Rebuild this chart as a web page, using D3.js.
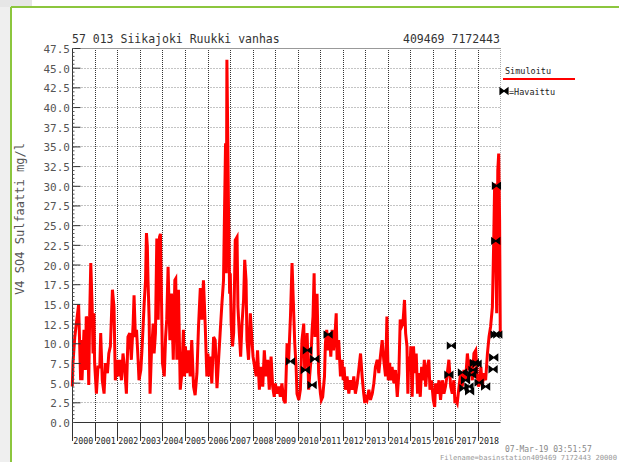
<!DOCTYPE html>
<html>
<head>
<meta charset="utf-8">
<script src="https://cdn.jsdelivr.net/npm/d3@7"></script>
<style>
  body { margin: 0; background: #fff; }
  svg { display: block; }
  text { font-family: "DejaVu Sans Mono", monospace; }
</style>
</head>
<body>
<svg id="svg" width="619" height="462"></svg>
<script>
// simulated SO4 (decimal year, mg/l)
const simT = [
  2000.00,2000.03,2000.11,2000.18,2000.28,2000.37,2000.40,2000.43,2000.52,2000.58,2000.62,2000.67,2000.73,2000.77,2000.82,2000.88,2000.92,2000.96,2000.99,
  2001.07,2001.14,2001.22,2001.26,2001.33,2001.41,2001.47,2001.56,2001.62,2001.69,2001.78,2001.85,2001.91,2001.99,
  2002.03,2002.10,2002.18,2002.25,2002.33,2002.40,2002.47,2002.55,2002.62,2002.70,2002.74,2002.80,2002.85,2002.92,2002.96,
  2003.04,2003.10,2003.19,2003.25,2003.29,2003.33,2003.36,2003.41,2003.45,2003.51,2003.59,2003.63,2003.69,2003.75,2003.81,2003.87,2003.91,2003.96,2004.00,
  2004.08,2004.14,2004.19,2004.25,2004.33,2004.40,2004.48,2004.55,2004.59,2004.64,2004.71,2004.79,2004.86,2004.93,2004.98,
  2005.02,2005.08,2005.16,2005.23,2005.30,2005.38,2005.45,2005.53,2005.60,2005.68,2005.75,2005.82,2005.90,2005.97,
  2006.02,2006.05,2006.12,2006.19,2006.27,2006.34,2006.42,2006.49,2006.56,2006.64,2006.71,2006.76,2006.80,2006.83,2006.86,2006.90,2006.93,2006.98,
  2007.01,2007.05,2007.11,2007.16,2007.23,2007.31,2007.35,2007.41,2007.47,2007.53,2007.60,2007.65,2007.71,2007.75,2007.82,2007.90,2007.97,
  2008.02,2008.09,2008.16,2008.22,2008.30,2008.37,2008.45,2008.52,2008.59,2008.67,2008.74,2008.82,2008.89,2008.96,
  2009.01,2009.08,2009.16,2009.23,2009.30,2009.38,2009.45,2009.53,2009.60,2009.68,2009.75,2009.82,2009.87,2009.93,2009.97,
  2010.05,2010.12,2010.19,2010.27,2010.31,2010.37,2010.42,2010.49,2010.53,2010.58,2010.64,2010.68,2010.73,2010.77,2010.82,2010.86,2010.91,2010.93,
  2011.01,2011.05,2011.11,2011.19,2011.23,2011.29,2011.35,2011.41,2011.47,2011.53,2011.59,2011.65,2011.71,2011.75,2011.82,2011.90,2011.97,
  2012.02,2012.06,2012.12,2012.19,2012.27,2012.34,2012.42,2012.49,2012.56,2012.64,2012.71,2012.79,2012.86,2012.93,2012.98,
  2013.01,2013.08,2013.16,2013.23,2013.31,2013.38,2013.45,2013.53,2013.60,2013.67,2013.75,2013.82,2013.90,2013.96,
  2014.02,2014.08,2014.13,2014.19,2014.27,2014.34,2014.42,2014.49,2014.55,2014.61,2014.67,2014.74,2014.79,2014.85,2014.89,2014.93,2014.99,
  2015.02,2015.08,2015.14,2015.20,2015.26,2015.32,2015.38,2015.44,2015.50,2015.56,2015.62,2015.68,2015.75,2015.82,2015.87,2015.94,
  2016.02,2016.08,2016.12,2016.19,2016.27,2016.34,2016.42,2016.49,2016.56,2016.64,2016.71,2016.79,2016.86,2016.93,2016.98,
  2017.02,2017.08,2017.16,2017.23,2017.30,2017.38,2017.45,2017.53,2017.60,2017.68,2017.75,2017.82,2017.90,2017.96,
  2018.02,2018.08,2018.13,2018.19,2018.26,2018.34,2018.42,2018.49,2018.56,2018.64,2018.70,2018.74,2018.79,2018.83,2018.88,2018.92,2018.96,2018.99
]
const simV = [
  4.5,7.5,10.8,12.5,14.9,5.3,10.4,5.3,11.7,6.6,13.4,13.0,4.7,13.4,20.2,14.6,8.7,13.8,7.5,
  3.6,7.0,7.0,11.3,5.3,3.6,7.5,6.2,8.7,9.6,16.8,14.6,5.3,7.9,
  5.8,7.9,5.3,8.7,6.6,3.6,10.8,11.3,7.9,12.5,16.1,10.8,11.7,7.9,5.3,
  6.6,9.6,15.1,18.0,24.0,22.3,18.0,13.0,3.6,8.7,12.5,8.7,11.3,23.3,13.0,23.5,23.9,15.1,7.5,
  5.8,10.8,13.0,19.7,10.4,16.3,7.9,18.0,18.2,7.9,16.8,4.1,6.2,11.7,5.8,
  9.6,6.2,9.1,5.8,10.4,4.5,3.4,6.2,12.1,17.0,13.0,18.0,12.1,5.8,
  8.7,5.8,8.3,4.9,10.8,10.4,4.3,7.9,11.3,15.1,18.0,27.8,35.4,18.9,46.0,35.8,27.3,16.3,
  18.9,12.5,9.6,11.3,23.1,23.5,14.6,11.3,8.3,12.5,15.5,20.6,18.0,10.4,7.9,13.8,10.4,
  8.3,7.0,5.8,9.1,4.1,7.0,4.5,9.1,5.8,7.9,4.1,8.3,4.5,3.2,
  4.9,3.6,4.5,3.2,4.9,2.8,2.4,10.0,7.9,13.4,20.2,14.2,10.0,7.0,3.6,
  2.8,4.1,10.4,12.5,6.6,8.3,11.3,4.1,5.8,7.5,11.7,13.4,18.9,10.8,15.5,16.3,9.1,6.2,
  3.6,2.8,3.2,5.8,10.0,11.7,9.1,11.3,8.3,11.7,9.1,10.8,13.8,7.9,10.4,5.8,7.9,
  5.3,7.0,4.1,5.8,3.6,5.3,4.1,5.8,3.6,4.9,6.6,8.7,5.8,3.6,2.4,
  3.2,2.8,4.1,2.8,3.6,4.9,7.0,7.9,6.2,8.3,10.4,7.9,5.8,13.4,
  5.3,7.5,5.3,7.0,4.9,6.6,3.2,6.2,13.0,12.1,12.5,15.5,11.3,9.6,3.6,8.3,7.0,
  9.6,3.2,9.6,6.2,8.7,3.6,6.2,3.2,7.0,5.3,7.9,4.5,7.0,7.9,4.1,5.3,
  2.8,1.9,4.9,3.6,5.3,2.8,5.3,3.6,4.5,6.2,7.9,4.5,3.6,5.3,2.4,
  2.8,2.4,4.5,6.2,4.5,6.6,5.3,8.7,6.6,7.9,5.3,8.7,9.1,6.2,
  4.5,5.3,7.0,4.5,6.2,5.3,8.7,10.8,12.1,14.6,23.1,30.3,22.3,13.8,32.0,34.1,25.7,11.3
]

// observed samples
const obsT = [2009.68,2010.34,2010.43,2010.64,2010.76,2011.35,2016.71,2016.82,2017.31,2017.38,2017.45,2017.60,2017.63,2017.72,2017.78,2017.84,2017.96,2018.05,2018.34,2018.67,2018.70,2018.76,2018.79,2018.82,2018.88]
const obsV = [7.7,6.6,9.1,4.7,8.0,11.1,6.0,9.7,6.3,4.3,5.3,4.5,3.9,6.0,6.6,7.5,7.4,5.0,4.5,6.7,8.2,11.1,23.0,30.0,11.1]

const years = d3.range(2000, 2019)
const yTicks = d3.range(0, 48, 2.5)

const svg = d3.select("#svg")

// page frame
svg.append('rect').attr('x', 0).attr('y', 0).attr('width', 11).attr('height', 462).attr('fill', '#efefef')
svg.append('rect').attr('x', 0).attr('y', 0).attr('width', 32).attr('height', 7).attr('fill', '#e6e6e6')
svg.append('line').attr('x1', 11).attr('x2', 11).attr('y1', 7).attr('y2', 462).attr('stroke', '#8cc63e').attr('stroke-width', 2)
svg.append('line').attr('x1', 11).attr('x2', 619).attr('y1', 7).attr('y2', 7).attr('stroke', '#8cc63e').attr('stroke-width', 2)

const x = d3.scaleLinear().domain([2000, 2019]).range([72.3, 500.5])
const y = d3.scaleLinear().domain([0, 47.5]).range([422, 48])

// horizontal grid
svg.append('g').selectAll('line').data(yTicks.slice(1)).enter().append('line')
    .attr('x1', 72).attr('x2', 500.5)
    .attr('y1', d => Math.round(y(d)) + 0.5).attr('y2', d => Math.round(y(d)) + 0.5)
    .attr('stroke', '#c4c4c4').attr('stroke-dasharray', '2,1')

// year lines, dotted inside, solid below the axis
const yl = svg.append('g')
yl.selectAll('.vg').data(years.slice(1)).enter().append('line')
    .attr('x1', d => Math.round(x(d)) + 0.5).attr('x2', d => Math.round(x(d)) + 0.5)
    .attr('y1', 48).attr('y2', 422)
    .attr('stroke', '#333').attr('stroke-dasharray', '1,1')
yl.selectAll('.vt').data(years).enter().append('line')
    .attr('x1', d => Math.round(x(d)) + 0.5).attr('x2', d => Math.round(x(d)) + 0.5)
    .attr('y1', 422).attr('y2', 441)
    .attr('stroke', '#333')

// right frame
svg.append('line').attr('x1', 500.5).attr('x2', 500.5).attr('y1', 48).attr('y2', 422)
    .attr('stroke', '#aaa').attr('stroke-dasharray', '1,1')

// simulated series
const pts = simT.map((t, i) => [t, simV[i]])
svg.append('path').datum(pts)
    .attr('d', d3.line().x(d => x(d[0])).y(d => y(d[1])))
    .attr('fill', 'none').attr('stroke', '#ff0000').attr('stroke-width', 3)
    .attr('stroke-linejoin', 'miter')

// observed markers (small bowtie)
const marker = 'M-4,-3L4,3L4,-3L-4,3Z'
svg.append('g').selectAll('path').data(obsT).enter().append('path')
    .attr('transform', (d, i) => `translate(${x(d)},${y(obsV[i])})`)
    .attr('d', marker).attr('fill', '#000').attr('stroke', '#000').attr('stroke-width', 1.2)

// axes
svg.append('line').attr('x1', 72.5).attr('x2', 72.5).attr('y1', 48).attr('y2', 441).attr('stroke', '#333')
svg.append('line').attr('x1', 72).attr('x2', 500.5).attr('y1', 422.5).attr('y2', 422.5).attr('stroke', '#333')
svg.append('line').attr('x1', 72).attr('x2', 500.5).attr('y1', 48.5).attr('y2', 48.5).attr('stroke', '#999')

const yAxis = d3.axisRight(y).tickValues(yTicks).tickSize(8).tickFormat('')
svg.append('g').attr('transform', 'translate(72.5,0)').call(yAxis)
    .call(g => g.select('.domain').remove())
    .call(g => g.selectAll('line').attr('stroke', '#333'))
const yMinor = d3.axisRight(y).tickValues(d3.range(0, 47.6, 0.5)).tickSize(2).tickFormat('')
svg.append('g').attr('transform', 'translate(72.5,0)').call(yMinor)
    .call(g => g.select('.domain').remove())
    .call(g => g.selectAll('line').attr('stroke', '#555'))

svg.append('g').selectAll('text').data(yTicks).enter().append('text')
    .attr('x', 70).attr('y', d => y(d) + 5)
    .attr('text-anchor', 'end').attr('font-size', 11).attr('fill', '#555')
    .text(d => d.toFixed(1))

svg.append('g').selectAll('text').data(years).enter().append('text')
    .attr('x', d => x(d) + 1).attr('y', 444)
    .attr('font-size', 9.5).attr('fill', '#222')
    .attr('textLength', 20).attr('lengthAdjust', 'spacingAndGlyphs')
    .text(d => d)

// titles
svg.append('text').attr('x', 72).attr('y', 43).attr('font-size', 11.5).attr('fill', '#333')
    .text('57 013 Siikajoki Ruukki vanhas')
svg.append('text').attr('x', 403).attr('y', 43).attr('font-size', 11.5).attr('fill', '#333')
    .text('409469 7172443')
svg.append('text').attr('transform', 'translate(24,219) rotate(-90)')
    .attr('text-anchor', 'middle').attr('font-size', 12).attr('fill', '#555')
    .text('V4 SO4 Sulfaatti mg/l')

// legend
svg.append('text').attr('x', 505).attr('y', 74).attr('font-size', 8.5).attr('fill', '#222').text('Simuloitu')
svg.append('line').attr('x1', 503).attr('x2', 575).attr('y1', 79).attr('y2', 79).attr('stroke', '#ff0000').attr('stroke-width', 2)
svg.append('path').attr('transform', 'translate(504,91)').attr('d', marker)
    .attr('fill', '#000').attr('stroke', '#000').attr('stroke-width', 1.2)
svg.append('text').attr('x', 509).attr('y', 95).attr('font-size', 8.5).attr('fill', '#222').text('=Havaittu')

// footer
svg.append('text').attr('x', 505).attr('y', 452).attr('font-size', 8).attr('fill', '#888').text('07-Mar-19 03:51:57')
svg.append('text').attr('x', 440).attr('y', 460).attr('font-size', 7).attr('fill', '#999')
    .attr('textLength', 177).attr('lengthAdjust', 'spacingAndGlyphs')
    .text('Filename=basinstation409469 7172443 20000')
</script>
</body>
</html>
